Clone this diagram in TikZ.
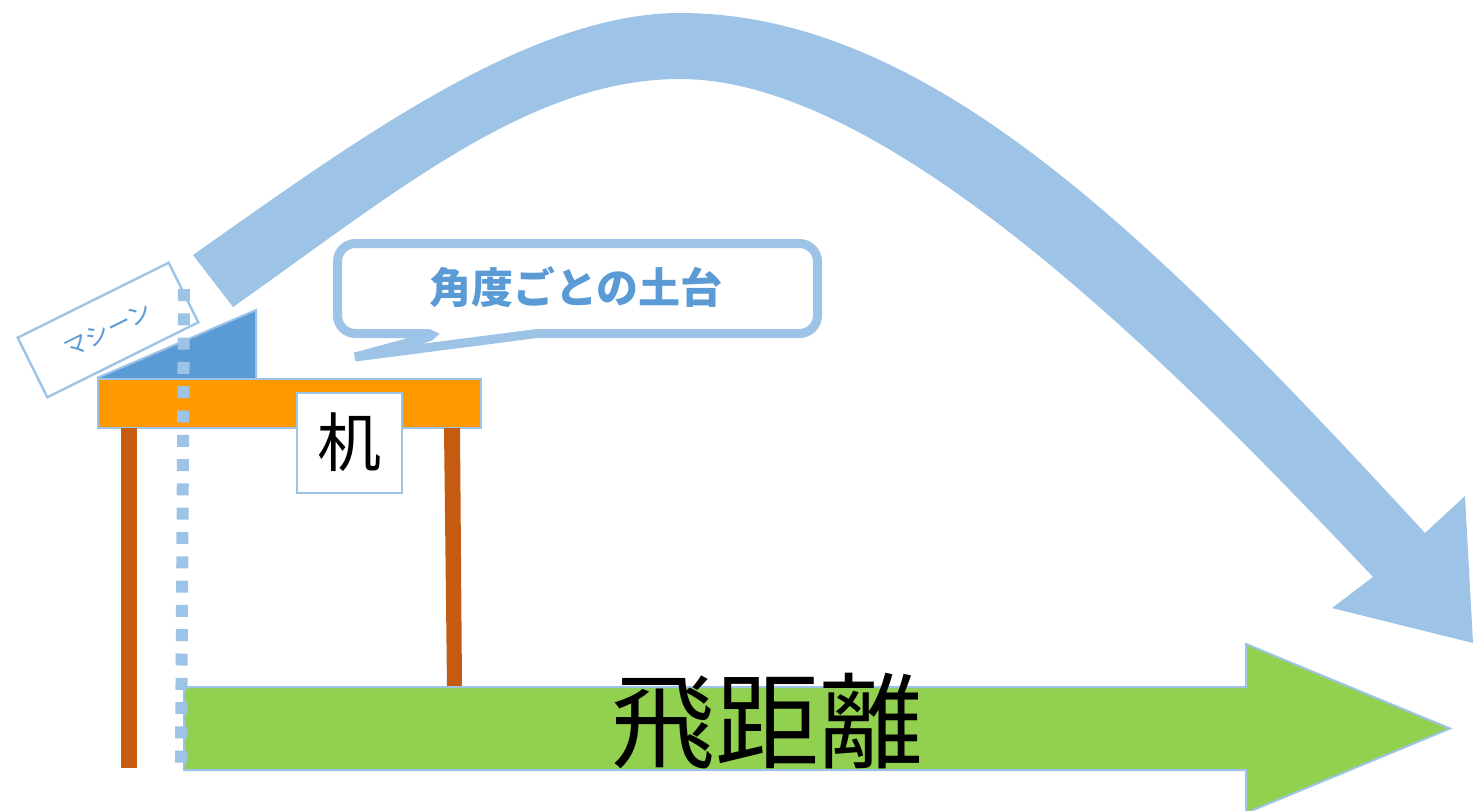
\documentclass[tikz,border=0pt]{standalone}
\usepackage{fontspec}
\newfontfamily\jp{Noto Sans CJK JP}
\definecolor{lineblue}{HTML}{9DC3E6}
\definecolor{midblue}{HTML}{5B9BD5}
\definecolor{deskorange}{HTML}{FF9900}
\definecolor{legbrown}{HTML}{C55A11}
\definecolor{grassgreen}{HTML}{92D050}
\begin{document}
\begin{tikzpicture}[x=0.5pt,y=-0.5pt,
  thinborder/.style={draw=lineblue,line width=1pt},
  labelbox/.style={thinborder,fill=white,inner sep=0pt,font=\jp},
  dotline/.style={draw=lineblue,line width=6pt,dash pattern=on 6pt off 6.15pt}]
\useasboundingbox (0,0) rectangle (1473,810);

% flight path arrow
\fill[lineblue] (193,255) .. controls (356,140) and (530,13) .. (680,13)
  .. controls (930,13) and (1154,239) .. (1425,533)
  -- (1465,496) -- (1473,643) -- (1332,608) -- (1373,577)
  .. controls (1147,337) and (880,79) .. (680,79)
  .. controls (530,79) and (396,192) .. (233,307) -- cycle;

% machine label, tilted
\node[labelbox,line width=1.2pt,rotate=26.4,minimum width=84.3pt,minimum height=33.3pt,
  text=midblue,font=\jp\fontsize{12pt}{14pt}\selectfont] (machine) at (108,330) {マシーン};

% angle block
\fill[midblue] (97,378) -- (256,310) -- (256,378) -- cycle;
\draw[thinborder] (97,378) -- (256,310) -- (256,378);

% desk top and legs
\draw[thinborder,fill=deskorange] (98,379) rectangle (481,428);
\fill[legbrown] (121,428) rectangle (137,768);
\fill[legbrown] (444,428) -- (460,428) -- (462,687) -- (447,687) -- cycle;
\node[labelbox,minimum width=52.5pt,minimum height=50pt,
  font=\jp\fontsize{32pt}{36pt}\selectfont] (desk) at (349.5,442.5) {机};

% callout for the stand
\draw[draw=lineblue,line width=4.5pt,fill=white,line join=miter]
  (442,333.5) [sharp corners] -- (355,357) -- (537,333.5)
  [rounded corners=9pt] -- (817.5,333.5) -- (817.5,243.5) -- (337.5,243.5)
  -- (337.5,333.5) -- cycle;
\node[text=midblue,font=\jp\bfseries\fontsize{21pt}{24pt}\selectfont] (stand) at (576,287) {角度ごとの土台};

% distance arrow
\draw[thinborder,fill=grassgreen] (184,687) -- (1246,687) -- (1246,644)
  -- (1450,728.5) -- (1246,813) -- (1246,770) -- (184,770) -- cycle;

% vertical reference line
\coordinate (droptop) at (184,289);
\coordinate (dropbot) at (181,763);
\draw[dotline] (droptop) -- (dropbot);

\node[font=\jp\fontsize{52pt}{56pt}\selectfont] (dist) at (767,721) {飛距離};
\end{tikzpicture}
\end{document}
